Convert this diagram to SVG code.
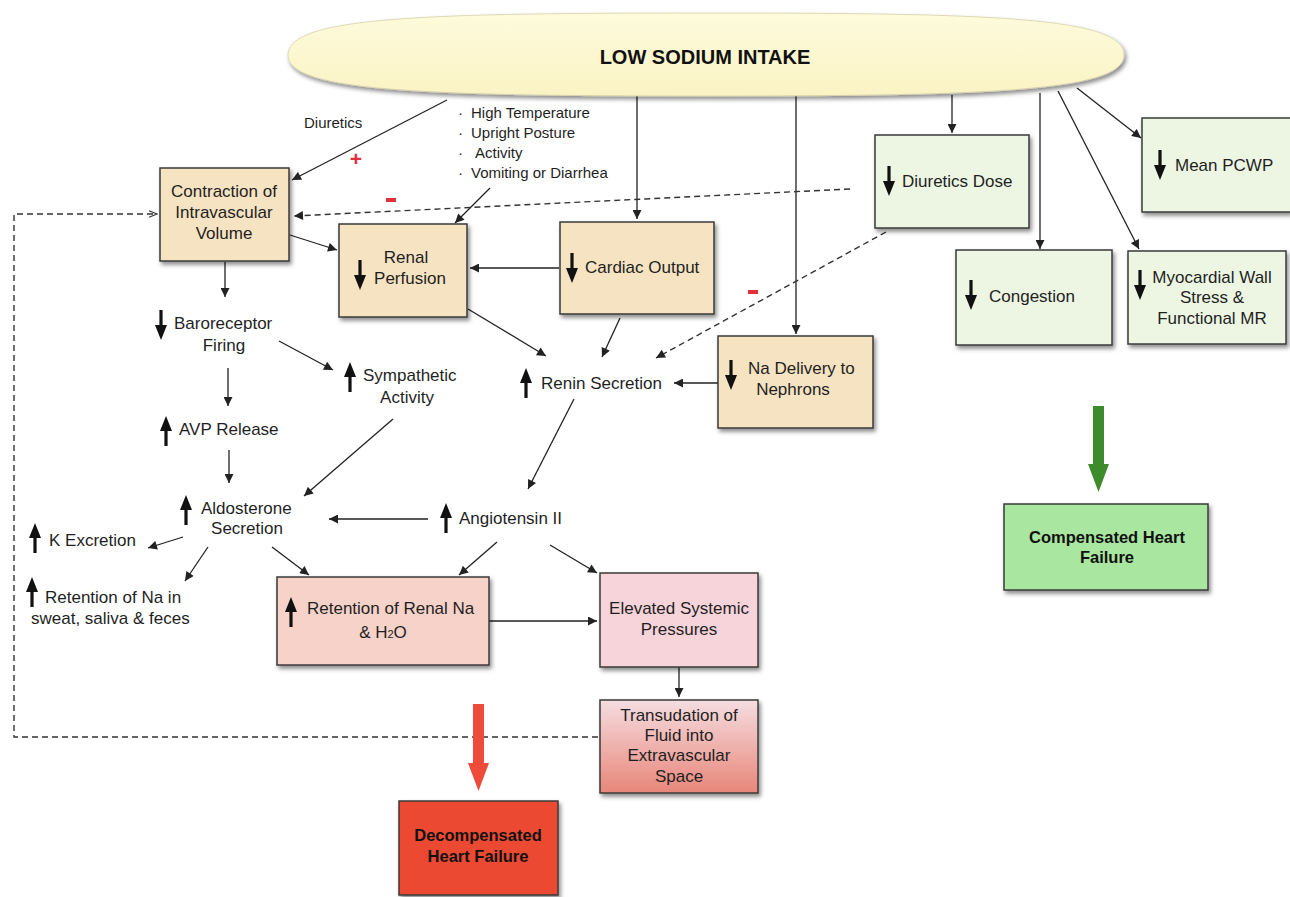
<svg xmlns="http://www.w3.org/2000/svg" xmlns:xlink="http://www.w3.org/1999/xlink" width="1290" height="897" viewBox="0 0 1290 897">
<defs>
<style>
.t{font-family:"Liberation Sans",Arial,sans-serif;font-size:17px;fill:#1f1f1f}
.s{font-family:"Liberation Sans",Arial,sans-serif;font-size:15px;fill:#1f1f1f}
.b{font-family:"Liberation Sans",Arial,sans-serif;font-weight:bold;fill:#111}
.c{text-anchor:middle}
.box{stroke:#3a3a3a;stroke-width:1.5;filter:url(#sh)}
.tan{fill:#F6E3C2}
.grn{fill:#ECF6E3}
.ln{stroke:#222;stroke-width:1.3;fill:none;marker-end:url(#ah)}
.dl{stroke:#333;stroke-width:1.4;fill:none;stroke-dasharray:6,4}
.gl{fill:#111}
.red{fill:#E0303A;font-family:"Liberation Sans",Arial,sans-serif;font-weight:bold}
</style>
<filter id="sh" x="-10%" y="-10%" width="125%" height="130%">
<feDropShadow dx="2" dy="3" stdDeviation="2" flood-color="#000" flood-opacity="0.45"/>
</filter>
<linearGradient id="ell" x1="0" y1="0" x2="0" y2="1">
<stop offset="0" stop-color="#FEFBDC"/>
<stop offset="1" stop-color="#FAF3C4"/>
</linearGradient>
<linearGradient id="trans" x1="0" y1="0" x2="0" y2="1">
<stop offset="0" stop-color="#F5DDE0"/>
<stop offset="1" stop-color="#E8867A"/>
</linearGradient>
<marker id="ah" viewBox="0 0 10 10" refX="10" refY="5" markerWidth="11" markerHeight="9" markerUnits="userSpaceOnUse" orient="auto">
<path d="M0,0 L10,5 L0,10 z" fill="#222"/>
</marker>
<marker id="oh" viewBox="0 0 10 10" refX="10" refY="5" markerWidth="10" markerHeight="8" markerUnits="userSpaceOnUse" orient="auto">
<path d="M0,1 L10,5 L0,9" fill="none" stroke="#333" stroke-width="1.4"/>
</marker>
<path id="dn" d="M-1.6,0 H1.6 V15 H6 L0,30 L-6,15 H-1.6 Z"/>
<path id="up" d="M0,0 L6,15 H1.6 V30 H-1.6 V15 H-6 Z"/>
</defs>

<rect width="1290" height="897" fill="#ffffff"/>

<g id="connectors">
<line class="ln" x1="447" y1="100" x2="292" y2="180"/>
<line class="ln" x1="637" y1="96" x2="637" y2="219"/>
<line class="ln" x1="796" y1="96" x2="796" y2="334"/>
<line class="ln" x1="952" y1="95" x2="952" y2="133"/>
<line class="ln" x1="1040" y1="93" x2="1040" y2="249"/>
<line class="ln" x1="1058" y1="91" x2="1139" y2="249"/>
<line class="ln" x1="1077" y1="88" x2="1141" y2="138"/>
<line class="ln" x1="490" y1="188" x2="455" y2="223"/>
<line class="ln" x1="290" y1="235" x2="337" y2="250"/>
<line class="ln" x1="225" y1="262" x2="225" y2="297"/>
<line class="ln" x1="559" y1="268" x2="470" y2="268"/>
<line class="ln" x1="468" y1="309" x2="546" y2="356"/>
<line class="ln" x1="620" y1="318" x2="602" y2="357"/>
<line class="ln" x1="718" y1="383" x2="674" y2="383"/>
<line class="ln" x1="574" y1="399" x2="528" y2="489"/>
<line class="dl" x1="850" y1="189" x2="294" y2="216" style="marker-end:url(#ah)"/>
<line class="dl" x1="886" y1="232" x2="656" y2="358" style="marker-end:url(#ah)"/>
<polyline class="dl" points="598,737 14,737 14,214 157,214" style="marker-end:url(#oh)"/>
<line class="ln" x1="279" y1="341" x2="333" y2="370"/>
<line class="ln" x1="228" y1="368" x2="228" y2="406"/>
<line class="ln" x1="229" y1="450" x2="229" y2="483"/>
<line class="ln" x1="393" y1="419" x2="304" y2="496"/>
<line class="ln" x1="428" y1="519" x2="329" y2="519"/>
<line class="ln" x1="183" y1="537" x2="148" y2="548"/>
<line class="ln" x1="208" y1="547" x2="185" y2="581"/>
<line class="ln" x1="272" y1="547" x2="309" y2="575"/>
<line class="ln" x1="497" y1="542" x2="459" y2="575"/>
<line class="ln" x1="550" y1="545" x2="597" y2="573"/>
<line class="ln" x1="489" y1="621" x2="597" y2="621"/>
<line class="ln" x1="679" y1="667" x2="679" y2="697"/>
<path d="M1093,406 H1104 V464 H1109 L1098.5,492 L1088,464 H1093 Z" fill="#3E8B2E"/>
<path d="M473,704 H484 V763 H489 L478.5,791 L468,763 H473 Z" fill="#EE4B3A"/>
</g>

<g id="low-sodium-intake">
<path d="M288,55 C288,17 420,13 706,13 C992,13 1124,17 1124,55 C1124,91 992,96 706,96 C420,96 288,91 288,55 Z" fill="url(#ell)" stroke="#d6d0a8" stroke-width="0.8" filter="url(#sh)"/>
<text class="b c" x="705" y="64" font-size="20">LOW SODIUM INTAKE</text>
</g>

<g id="diuretics-label">
<text class="s" x="304" y="128" font-size="15.5">Diuretics</text>
<text class="red c" x="356" y="166" font-size="21">+</text>
</g>
<rect id="minus1" x="386" y="198" width="10" height="4" fill="#E0303A"/>
<rect id="minus2" x="748" y="290" width="10" height="4" fill="#E0303A"/>

<g id="factors">
<text class="s" x="458" y="118">·</text><text class="s" x="471" y="118">High Temperature</text>
<text class="s" x="458" y="138">·</text><text class="s" x="471" y="138">Upright Posture</text>
<text class="s" x="458" y="158">·</text><text class="s" x="475" y="158">Activity</text>
<text class="s" x="458" y="178">·</text><text class="s" x="471" y="178">Vomiting or Diarrhea</text>
</g>

<g id="contraction">
<rect class="box tan" x="160" y="168" width="129" height="93"/>
<text class="t c" x="224" y="197">Contraction of</text>
<text class="t c" x="224" y="218">Intravascular</text>
<text class="t c" x="224" y="239">Volume</text>
</g>

<g id="renal-perfusion">
<rect class="box tan" x="339" y="224" width="128" height="93"/>
<use href="#dn" class="gl" x="360" y="260"/>
<text class="t c" x="406" y="263">Renal</text>
<text class="t c" x="410" y="284">Perfusion</text>
</g>

<g id="cardiac-output">
<rect class="box tan" x="560" y="222" width="154" height="92"/>
<use href="#dn" class="gl" x="572" y="253"/>
<text class="t" x="585" y="273">Cardiac Output</text>
</g>

<g id="na-delivery">
<rect class="box tan" x="718" y="336" width="155" height="92"/>
<use href="#dn" class="gl" x="731" y="360"/>
<text class="t" x="748" y="374">Na Delivery to</text>
<text class="t c" x="793" y="395">Nephrons</text>
</g>

<g id="diuretics-dose">
<rect class="box grn" x="875" y="135" width="154" height="93"/>
<use href="#dn" class="gl" x="889" y="166"/>
<text class="t" x="902" y="187">Diuretics Dose</text>
</g>

<g id="mean-pcwp">
<rect class="box grn" x="1142" y="118" width="150" height="94"/>
<use href="#dn" class="gl" x="1160" y="150"/>
<text class="t" x="1175" y="171">Mean PCWP</text>
</g>

<g id="congestion">
<rect class="box grn" x="956" y="250" width="156" height="95"/>
<use href="#dn" class="gl" x="971" y="280"/>
<text class="t" x="989" y="302">Congestion</text>
</g>

<g id="myocardial">
<rect class="box grn" x="1128" y="251" width="158" height="93"/>
<use href="#dn" class="gl" x="1140" y="270"/>
<text class="t c" x="1212" y="283">Myocardial Wall</text>
<text class="t c" x="1212" y="303">Stress &amp;</text>
<text class="t c" x="1212" y="324">Functional MR</text>
</g>

<g id="baroreceptor">
<use href="#dn" class="gl" x="161" y="310"/>
<text class="t" x="174" y="329">Baroreceptor</text>
<text class="t c" x="224" y="351">Firing</text>
</g>

<g id="sympathetic">
<use href="#up" class="gl" x="350" y="362"/>
<text class="t" x="363" y="381">Sympathetic</text>
<text class="t c" x="407" y="403">Activity</text>
</g>

<g id="renin">
<use href="#up" class="gl" x="526" y="368"/>
<text class="t" x="541" y="389">Renin Secretion</text>
</g>

<g id="avp">
<use href="#up" class="gl" x="166" y="416"/>
<text class="t" x="179" y="435">AVP Release</text>
</g>

<g id="aldosterone">
<use href="#up" class="gl" x="186" y="495"/>
<text class="t" x="201" y="514">Aldosterone</text>
<text class="t c" x="247" y="534">Secretion</text>
</g>

<g id="angiotensin">
<use href="#up" class="gl" x="446" y="503"/>
<text class="t" x="459" y="524">Angiotensin II</text>
</g>

<g id="k-excretion">
<use href="#up" class="gl" x="35" y="523"/>
<text class="t" x="49" y="546">K Excretion</text>
</g>

<g id="na-sweat">
<use href="#up" class="gl" x="32" y="577"/>
<text class="t" x="45" y="603">Retention of Na in</text>
<text class="t" x="31" y="624">sweat, saliva &amp; feces</text>
</g>

<g id="retention-renal">
<rect class="box" fill="#F6D2C9" x="277" y="577" width="212" height="88"/>
<use href="#up" class="gl" x="291" y="597"/>
<text class="t" x="307" y="614">Retention of Renal Na</text>
<text class="t c" x="383" y="638">&amp; H<tspan font-size="11">2</tspan>O</text>
</g>

<g id="elevated">
<rect class="box" fill="#F7D3DA" x="600" y="573" width="158" height="94"/>
<text class="t c" x="679" y="614">Elevated Systemic</text>
<text class="t c" x="679" y="635">Pressures</text>
</g>

<g id="transudation">
<rect class="box" fill="url(#trans)" x="600" y="700" width="158" height="93"/>
<text class="t c" x="679" y="721">Transudation of</text>
<text class="t c" x="679" y="741">Fluid into</text>
<text class="t c" x="679" y="761">Extravascular</text>
<text class="t c" x="679" y="782">Space</text>
</g>

<g id="decompensated">
<rect class="box" fill="#EC4A33" x="399" y="801" width="159" height="94"/>
<text class="b c" x="478" y="841" font-size="16.5">Decompensated</text>
<text class="b c" x="478" y="862" font-size="16.5">Heart Failure</text>
</g>

<g id="compensated">
<rect class="box" fill="#A9E6A0" x="1004" y="504" width="204" height="86"/>
<text class="b c" x="1107" y="543" font-size="16.5">Compensated Heart</text>
<text class="b c" x="1107" y="563" font-size="16.5">Failure</text>
</g>
</svg>
